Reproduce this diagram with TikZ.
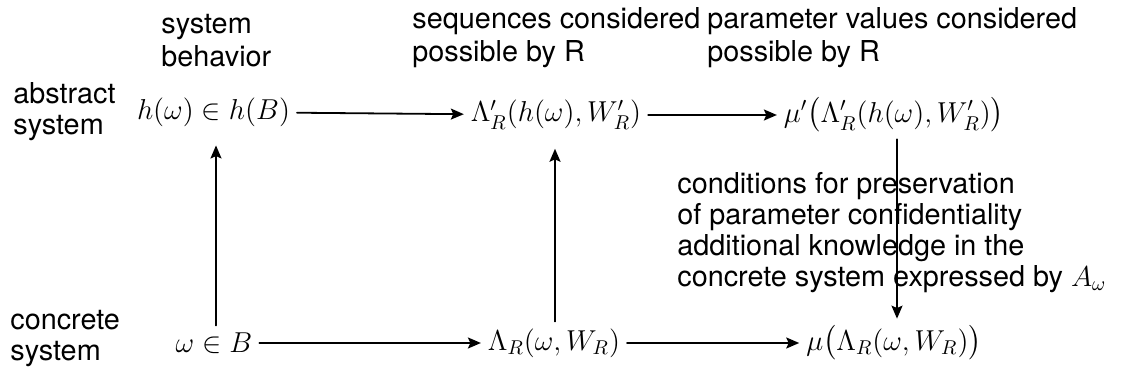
\documentclass[tikz,border=0pt]{standalone}
\usepackage{amsmath}
\usepackage[no-math]{fontspec}
\setmainfont{TeX Gyre Heros}
\usepackage{tikz}
\usetikzlibrary{arrows.meta}
\tikzset{
every picture/.style={line cap=round,line join=round},
state node/.style={font=\fontsize{14.4pt}{15.5pt}\selectfont},
side label/.style={
  font=\fontsize{14.4pt}{15.5pt}\selectfont,
  align=left,
  anchor=west,
  inner sep=0pt
},
top label/.style={side label, font=\fontsize{14.4pt}{16.5pt}\selectfont},
map arrow/.style={
  draw=black,
  -{Stealth[length=6.5pt,width=5.5pt,inset=1.2pt]},
  line width=0.9pt
}
}

\begin{document}
\begin{tikzpicture}[x=0.5pt,y=0.5pt]
\useasboundingbox (0,0) rectangle (1122,374);
% row labels and column captions
\node[top label] (capbeh) at (161,333) {system\\behavior};
\node[top label] (capseq) at (412,336) {sequences considered\\possible by R};
\node[top label] (cappar) at (707,336) {parameter values considered\\possible by R};
\node[side label] (capabs) at (13,262) {abstract\\system};
\node[side label] (capcon) at (10,35) {concrete\\system};
% the two rows
\node[state node] (habs) at (213.5,262) {$h(\omega)\in h(B)$};
\node[state node] (lamabs) at (556,259) {$\Lambda'_R(h(\omega),W'_R)$};
\node[state node] (muabs) at (894,259) {$\mu'\bigl(\Lambda'_R(h(\omega),W'_R)\bigr)$};
\node[state node] (wcon) at (214,31) {$\omega\in B$};
\node[state node] (lamcon) at (554,31) {$\Lambda_R(\omega,W_R)$};
\node[state node] (mucon) at (894,31) {$\mu\bigl(\Lambda_R(\omega,W_R)\bigr)$};
\node[side label] (cond) at (677,141.5) {conditions for preservation\\of parameter confidentiality\\additional knowledge in the\\concrete system expressed by $A_\omega$};
% maps
\draw[map arrow] (habs) -- (lamabs);
\draw[map arrow] (lamabs) -- (muabs);
\draw[map arrow] (wcon) -- (lamcon);
\draw[map arrow] (lamcon) -- (mucon);
\draw[map arrow,shorten >=6pt] (wcon.north -| 216,0) -- (habs.south -| 216,0);
\draw[map arrow,shorten >=6pt] (lamcon.north -| 555,0) -- (lamabs.south -| 555,0);
\draw[map arrow] (muabs.south -| 897,0) -- (mucon.north -| 897,0);
\end{tikzpicture}
\end{document}
